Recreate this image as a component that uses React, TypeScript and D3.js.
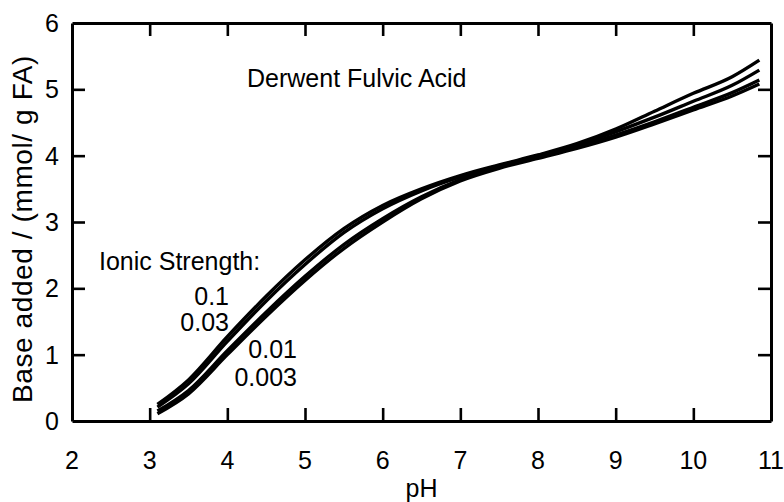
import React, { useEffect, useRef } from "react";
import * as d3 from "d3";

// pH grid shared by the four titration curves
const phValues = [3.1, 3.5, 4, 4.5, 5, 5.5, 6, 6.5, 7, 7.5, 8, 8.5, 9, 9.5, 10, 10.5, 10.85];

// Base added (mmol / g FA) for each ionic strength
const base0_1 = [0.25, 0.62, 1.27, 1.88, 2.43, 2.9, 3.25, 3.5, 3.7, 3.86, 4.01, 4.18, 4.4, 4.67, 4.94, 5.19, 5.44];
const base0_03 = [0.21, 0.56, 1.2, 1.81, 2.36, 2.84, 3.2, 3.47, 3.68, 3.85, 4.0, 4.16, 4.36, 4.58, 4.82, 5.06, 5.29];
const base0_01 = [0.15, 0.46, 1.06, 1.64, 2.18, 2.66, 3.05, 3.38, 3.64, 3.83, 3.98, 4.13, 4.31, 4.51, 4.73, 4.95, 5.14];
const base0_003 = [0.11, 0.41, 1.0, 1.58, 2.12, 2.6, 3.0, 3.35, 3.62, 3.81, 3.96, 4.11, 4.28, 4.48, 4.69, 4.9, 5.08];

const seriesList = [base0_1, base0_03, base0_01, base0_003];

const xTicks = [2, 3, 4, 5, 6, 7, 8, 9, 10, 11];
const yTicks = [0, 1, 2, 3, 4, 5, 6];

const WIDTH = 784;
const HEIGHT = 502;
const margin = { left: 72, right: 13, top: 23, bottom: 81 };
const FONT = "'Liberation Sans', Arial, sans-serif";
const FS = 25;

export default function App() {
  const ref = useRef<SVGSVGElement | null>(null);

  useEffect(() => {
    const svg = d3.select(ref.current);
    svg.selectAll("*").remove();

    const x = d3.scaleLinear().domain([2, 11]).range([margin.left, WIDTH - margin.right]);
    const y = d3.scaleLinear().domain([0, 6]).range([HEIGHT - margin.bottom, margin.top]);
    const x0 = x(2);
    const x1 = x(11);
    const y0 = y(0);
    const y1 = y(6);
    const tickLen = 13;

    const curveGen = d3
      .line<[number, number]>()
      .x((d) => x(d[0]))
      .y((d) => y(d[1]))
      .curve(d3.curveMonotoneX);

    // titration curves
    svg
      .append("g")
      .selectAll("path")
      .data(seriesList)
      .join("path")
      .attr("d", (vals) => curveGen(phValues.map((p, j) => [p, vals[j]] as [number, number])))
      .attr("fill", "none")
      .attr("stroke", "#000")
      .attr("stroke-width", 3.4);

    // axes with inward ticks on all four sides; labels drawn separately
    const styleAxis = (g: d3.Selection<SVGGElement, unknown, null, undefined>) => {
      g.selectAll(".domain").attr("stroke", "#000").attr("stroke-width", 3);
      g.selectAll(".tick line").attr("stroke", "#000").attr("stroke-width", 2.6);
      g.selectAll(".tick text").remove();
    };

    svg
      .append("g")
      .attr("transform", `translate(0,${y0})`)
      .call(d3.axisTop(x).tickValues(xTicks.slice(1, -1)).tickSizeInner(tickLen).tickSizeOuter(0))
      .call(styleAxis);
    svg
      .append("g")
      .attr("transform", `translate(0,${y1})`)
      .call(d3.axisBottom(x).tickValues(xTicks.slice(1, -1)).tickSizeInner(tickLen).tickSizeOuter(0))
      .call(styleAxis);
    svg
      .append("g")
      .attr("transform", `translate(${x0},0)`)
      .call(d3.axisRight(y).tickValues(yTicks.slice(1, -1)).tickSizeInner(tickLen).tickSizeOuter(0))
      .call(styleAxis);
    svg
      .append("g")
      .attr("transform", `translate(${x1},0)`)
      .call(d3.axisLeft(y).tickValues(yTicks.slice(1, -1)).tickSizeInner(tickLen).tickSizeOuter(0))
      .call(styleAxis);

    const txt = svg.append("g").attr("font-family", FONT).attr("font-size", FS).attr("fill", "#000");

    // tick labels
    txt
      .selectAll("text.xl")
      .data(xTicks)
      .join("text")
      .attr("class", "xl")
      .attr("x", (d) => x(d))
      .attr("y", y0 + 48)
      .attr("text-anchor", "middle")
      .text((d) => d);
    txt
      .selectAll("text.yl")
      .data(yTicks)
      .join("text")
      .attr("class", "yl")
      .attr("x", x0 - 13)
      .attr("y", (d) => y(d) + 9)
      .attr("text-anchor", "end")
      .text((d) => d);

    // axis titles
    txt
      .append("text")
      .attr("x", (x0 + x1) / 2)
      .attr("y", HEIGHT - 5)
      .attr("text-anchor", "middle")
      .text("pH");
    txt
      .append("text")
      .attr("transform", `translate(32, 229) rotate(-90)`)
      .attr("text-anchor", "middle")
      .attr("font-size", 28)
      .attr("letter-spacing", 0.6)
      .text("Base added / (mmol/ g FA)");

    // annotations
    txt.append("text").attr("x", 247).attr("y", 87).text("Derwent Fulvic Acid");
    txt.append("text").attr("x", 99).attr("y", 270).text("Ionic Strength:");
    const ionLabels: [string, number, number][] = [
      ["0.1", 229, 305],
      ["0.03", 229, 331],
      ["0.01", 297, 358],
      ["0.003", 297, 386],
    ];
    txt
      .selectAll("text.ion")
      .data(ionLabels)
      .join("text")
      .attr("class", "ion")
      .attr("x", (d) => d[1])
      .attr("y", (d) => d[2])
      .attr("text-anchor", "end")
      .text((d) => d[0]);
  }, []);

  return (
    <svg
      ref={ref}
      width={WIDTH}
      height={HEIGHT}
      style={{ position: "absolute", left: 0, top: 0, background: "#fff", display: "block" }}
    />
  );
}
